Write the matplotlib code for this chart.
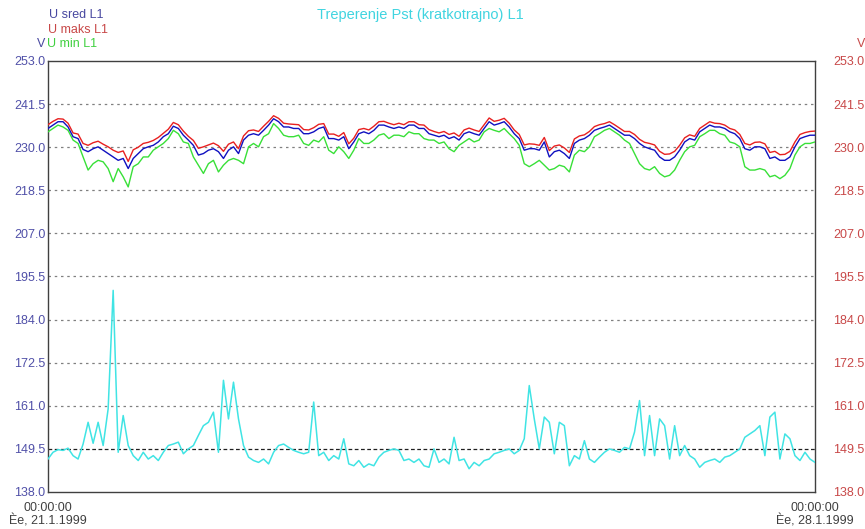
import numpy as np
import matplotlib
matplotlib.use('Agg')
import matplotlib.pyplot as plt

plt.rcParams['font.family'] = ['Liberation Sans', 'DejaVu Sans']

# --- podaci L1, 21.1.1999 - 28.1.1999 (ocitano sa slike) ---
u_sred = [
    235.0, 235.9, 236.8, 236.8, 235.4, 232.8, 232.3, 229.4, 228.8, 229.6,
    230.1, 229.2, 228.3, 227.4, 226.5, 227.0, 224.3, 227.0, 228.3, 229.6,
    230.1, 230.5, 231.4, 232.8, 233.6, 235.6, 235.0, 233.2, 231.9, 230.5,
    227.9, 228.3, 229.2, 229.6, 228.8, 227.0, 229.2, 230.1, 228.3,
    231.9, 233.2, 233.6, 233.2, 234.5, 235.9, 237.6, 236.8, 235.4, 235.4,
    235.0, 235.0, 233.6, 233.6, 234.1, 235.0, 235.4, 232.3, 232.3, 231.9,
    232.8, 229.6, 231.4, 233.6, 234.1, 233.6, 234.5, 235.9, 235.9, 235.4,
    235.0, 235.4, 235.0, 235.9, 235.9, 235.0, 235.0, 233.6, 233.2,
    232.8, 233.2, 232.3, 232.8, 231.9, 233.6, 234.1, 233.6, 233.2, 235.0,
    236.8, 235.9, 236.3, 236.8, 235.4, 233.6, 232.3, 229.2, 229.6, 229.6,
    229.2, 231.4, 227.4, 228.8, 229.2, 228.3, 227.0, 231.0, 231.9, 232.3,
    233.2, 234.5, 235.0, 235.4, 235.9, 235.0, 234.1, 233.2,
    233.2, 232.3, 231.0, 230.1, 229.6, 229.2, 227.4, 226.5, 226.5, 227.4,
    229.2, 231.4, 232.3, 231.9, 234.1, 235.0, 235.9, 235.4, 235.4, 235.0,
    234.1, 233.6, 232.3, 229.6, 229.2, 230.1, 230.1, 229.6, 227.0, 227.4,
    226.5, 226.5, 227.4, 230.1, 232.3, 232.8, 233.2, 233.2,
]
u_maks = [
    236.0, 236.9, 237.6, 237.5, 236.4, 233.8, 233.5, 231.0, 230.5, 231.2,
    231.6, 230.8, 230.1, 229.2, 228.6, 229.0, 226.2, 229.3, 230.0, 231.0,
    231.3, 231.8, 232.6, 233.7, 234.8, 236.6, 236.0, 234.3, 232.9, 231.8,
    229.7, 230.1, 230.6, 231.1, 230.4, 228.9, 230.8, 231.4, 229.6,
    233.0, 234.4, 234.6, 234.2, 235.6, 236.9, 238.4, 237.7, 236.4, 236.2,
    236.1, 236.0, 234.7, 234.6, 235.2, 236.1, 236.3, 233.5, 233.5, 232.9,
    233.9, 230.9, 232.4, 234.7, 235.0, 234.6, 235.6, 236.8, 236.9, 236.4,
    236.0, 236.4, 236.0, 236.8, 236.8, 236.0, 235.9, 234.7, 234.2,
    233.8, 234.2, 233.4, 233.8, 232.9, 234.6, 235.1, 234.6, 234.2, 236.0,
    237.8, 236.9, 237.2, 237.7, 236.4, 234.6, 233.4, 230.6, 230.9, 230.8,
    230.5, 232.6, 229.1, 230.3, 230.6, 229.8, 228.6, 232.2, 233.0, 233.3,
    234.2, 235.5, 236.0, 236.3, 236.8, 236.0, 235.1, 234.2,
    234.2, 233.4, 232.1, 231.3, 231.0, 230.6, 228.9, 228.1, 228.2, 228.9,
    230.5, 232.5, 233.3, 232.9, 235.0, 235.9, 236.8, 236.4, 236.3, 235.9,
    235.0, 234.6, 233.4, 231.0, 230.6, 231.3, 231.4, 230.9, 228.6, 228.9,
    228.0, 228.1, 228.9, 231.4, 233.4, 233.9, 234.2, 234.3,
]
u_min = [
    234.1, 235.0, 235.9, 235.4, 234.5, 231.9, 231.0, 227.4, 223.9, 225.6,
    226.5, 226.1, 224.3, 220.8, 224.3, 222.1, 219.4, 224.8, 225.6, 227.4,
    227.4, 229.2, 230.1, 231.0, 232.3, 234.5, 233.6, 231.4, 231.0, 227.4,
    225.2, 223.0, 225.6, 226.5, 223.4, 225.2, 226.5, 227.0, 226.5,
    225.6, 230.1, 231.0, 230.1, 232.8, 233.6, 236.3, 235.0, 233.2, 232.8,
    232.8, 233.2, 231.0, 230.5, 231.9, 231.4, 232.8, 229.2, 228.3, 230.1,
    228.8, 227.0, 229.2, 232.3, 231.0, 231.0, 231.9, 233.2, 233.6, 232.3,
    233.2, 233.2, 232.8, 234.1, 233.6, 233.6, 232.3, 231.9, 231.9,
    231.0, 231.4, 229.6, 228.8, 230.5, 231.4, 232.3, 231.4, 231.9, 234.1,
    235.0, 234.5, 234.1, 235.0, 233.6, 232.3, 230.5, 225.6, 224.8, 225.6,
    226.5, 225.2, 223.9, 224.3, 225.2, 224.8, 223.4, 227.9, 229.2, 228.8,
    230.1, 232.8, 233.6, 234.5, 235.0, 234.1, 233.2, 231.9,
    231.0, 228.3, 225.6, 224.3, 223.9, 224.8, 223.0, 222.1, 222.5, 223.9,
    226.5, 228.8, 230.1, 230.5, 232.8, 233.6, 234.5, 234.5, 233.6, 233.2,
    231.4, 231.0, 230.1, 224.8, 223.9, 223.9, 224.3, 223.9, 222.1, 222.5,
    221.6, 222.5, 224.3, 227.9, 230.1, 231.0, 231.0, 231.4,
]
# Treperenje Pst, u skali lijeve osi kako je prikazano
pst = [
    146.8, 148.6, 149.3, 149.1, 149.7, 147.7, 146.8, 150.8, 156.6, 151.0,
    156.6, 150.4, 160.2, 191.8, 148.6, 158.4, 150.4, 147.7, 146.4, 148.6,
    146.8, 147.7, 146.4, 148.6, 150.4, 150.8, 151.3, 148.2, 149.5, 150.4,
    153.1, 155.7, 156.6, 159.3, 148.6, 167.8, 157.5, 167.3, 157.5, 150.4,
    147.3, 146.4, 145.9, 146.8, 145.5, 148.6, 150.4, 150.8, 149.9, 149.1,
    148.6, 148.2, 148.6, 162.0, 147.7, 148.6, 146.4, 147.7, 146.8, 152.2,
    145.5, 145.0, 146.4, 144.6, 145.5, 145.0, 147.3, 148.6, 149.1, 149.5,
    149.1, 146.4, 146.8, 145.9, 146.8, 145.0, 144.6, 149.5,
    145.9, 146.8, 145.5, 152.6, 146.4, 146.8, 144.2, 145.9, 145.0, 146.4,
    146.8, 148.2, 148.6, 149.1, 149.5, 148.2, 149.1, 152.2, 166.4, 157.5,
    149.5, 158.0, 156.6, 148.2, 156.6, 155.7, 145.0, 147.7, 146.8, 151.7,
    146.8, 145.9, 147.3, 148.6, 149.5, 149.1, 148.6, 149.9, 149.5, 154.0,
    162.4, 147.7, 158.4, 147.7, 157.5, 155.7, 146.8, 155.7, 147.7, 150.4,
    147.7, 146.8, 144.6, 145.9, 146.4, 146.8, 145.9, 147.3, 147.7, 148.6,
    149.5, 152.6, 153.5, 154.4, 155.7, 147.7, 158.0, 159.3, 146.8, 153.5,
    152.2, 147.7, 146.4, 148.6, 146.8, 145.9,
]
y_ticks = [138.0, 149.5, 161.0, 172.5, 184.0, 195.5, 207.0, 218.5, 230.0, 241.5, 253.0]
x_labels = ['00:00:00\nÈe, 21.1.1999', '00:00:00\nÈe, 28.1.1999']

sati = np.linspace(0, 168, len(u_sred))

W, H = 865, 529
fig = plt.figure(figsize=(W / 100, H / 100), dpi=100)
ax = fig.add_axes([48 / W, 37 / H, 767 / W, 431 / H])

ax.plot(sati, u_min, color='#38e038', lw=1.0, zorder=3)
ax.plot(sati, u_maks, color='#e82020', lw=1.0, zorder=4)
ax.plot(sati, u_sred, color='#1010c0', lw=1.0, zorder=5)
ax.plot(sati, pst, color='#40e4e4', lw=1.1, zorder=3)

ax.set_xlim(0, 168)
ax.set_ylim(y_ticks[0], y_ticks[-1])
ax.set_yticks(y_ticks)
ax.set_yticklabels([f'{t:.1f}' for t in y_ticks])
ax.tick_params(axis='y', length=0, pad=2, labelsize=9, labelcolor='#5050a8')
ax.set_xticks([0, 168])
ax.set_xticklabels(x_labels, linespacing=1.05)
ax.tick_params(axis='x', length=0, pad=7, labelsize=9, labelcolor='#404040')

# mreza
for t in y_ticks[1:-1]:
    if t == 149.5:
        ax.axhline(t, color='#202020', lw=0.9, ls=(0, (3, 2)), zorder=1)
    else:
        ax.axhline(t, color='#808080', lw=0.9, ls=(0, (2, 3)), zorder=1)

for s in ax.spines.values():
    s.set_color('#404040')
    s.set_linewidth(1.0)

# desna os
ax2 = ax.twinx()
ax2.set_ylim(y_ticks[0], y_ticks[-1])
ax2.set_yticks(y_ticks)
ax2.set_yticklabels([f'{t:.1f}' for t in y_ticks])
ax2.tick_params(axis='y', length=0, pad=13, labelsize=9, labelcolor='#c84848')
for s in ax2.spines.values():
    s.set_visible(False)

def tekst(x, y, s, size=9, **kw):
    fig.text(x / W, 1 - y / H, s, va='center', fontsize=size, **kw)

tekst(49, 15, 'U sred L1', color='#4848a0')
tekst(48, 30, 'U maks L1', color='#c84848')
tekst(47, 44, 'U min L1', color='#40d040')
tekst(45, 44, 'V', color='#4848a0', ha='right')
tekst(865, 44, 'V', color='#c84848', ha='right')
tekst(420, 15, 'Treperenje Pst (kratkotrajno) L1', size=10.5, color='#40d4e0', ha='center')

fig.savefig('out.png', dpi=100)
